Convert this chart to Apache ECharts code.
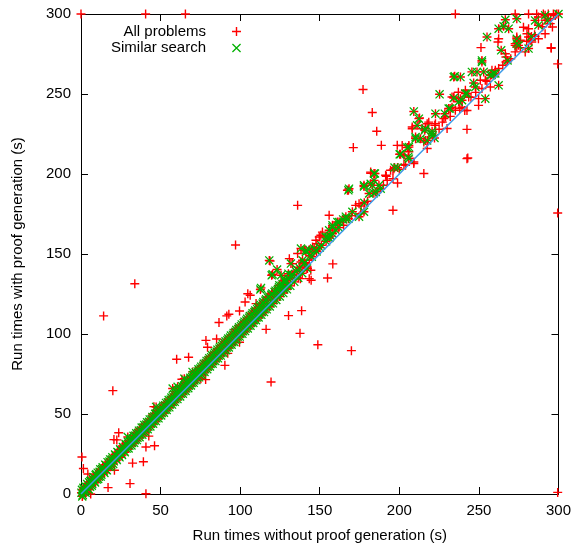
<!DOCTYPE html>
<html>
<head>
<meta charset="utf-8">
<style>
html,body{margin:0;padding:0;background:#fff;}
#chart{width:574px;height:548px;}
</style>
<script src="https://cdn.jsdelivr.net/npm/echarts@6/dist/echarts.min.js"></script>
</head>
<body>
<div id="chart"></div>
<script>
// Tick values
const xTicks = [0, 50, 100, 150, 200, 250, 300];
const yTicks = [0, 50, 100, 150, 200, 250, 300];

// Reference diagonal (equal run times)
const diagonal = [[0, 0], [300, 300]];

// "Similar search" problems (drawn with green x; they are also part of "All problems")
const similarBand = [
[0.3,0.8],[0.6,2.6],[1.1,-0.6],[1.5,3.9],[2.1,1.2],[2.7,4.8],[3.2,2.1],[3.9,6.2],[4.4,3.1],[5.1,7.3],[5.7,4.6],[6.3,8.4],[7.1,6.2],[7.8,10.6],[8.4,7.9],[9.2,11.8],[9.9,9.1],[10.5,13.3],[11.3,10.8],[12.1,15.4],[12.8,12.1],[13.6,16.7],[14.3,14.2],[15.2,18.3],[15.9,15.0],[16.7,19.9],[17.4,17.1],[18.3,21.6],[19.0,18.2],[19.7,22.9],[20.6,20.4],[21.4,24.7],[22.1,21.8],[22.9,26.2],[23.8,23.5],[24.6,27.9],[25.4,25.1],[26.3,29.4],[27.1,27.0],[28.0,31.3],[28.7,28.4],[29.4,35.6],[29.5,32.6],[30.4,30.1],[31.3,34.5],[32.1,31.8],[33.0,36.4],[33.8,33.6],[34.7,37.9],[35.5,35.1],[36.4,39.6],[37.2,37.0],[38.1,41.5],[38.9,38.7],[39.8,43.1],[40.6,40.5],[41.5,44.8],[42.3,42.0],[43.2,46.6],[44.0,43.9],[44.9,48.2],[45.7,45.6],[46.6,50.1],[47.2,54.4],[47.4,47.3],[48.3,51.7],[49.1,49.1],[50.0,53.5],[50.8,50.6],[51.7,55.2],[52.5,52.5],[53.4,56.9],[54.2,54.0],[55.1,58.7],[55.9,55.9],[56.8,60.3],[57.6,65.9],[57.6,57.5],[58.5,62.1],[59.3,59.2],[60.2,63.9],[60.7,67.0],[61.0,60.9],[61.9,65.6],[62.7,62.6],[63.6,67.3],[64.4,64.2],[64.9,72.1],[65.3,69.1],[66.1,65.9],[67.0,70.9],[67.8,67.7],[68.7,72.6],[69.5,69.4],[70.1,76.3],[70.4,74.3],[71.2,71.0],[72.1,76.1],[72.9,72.8],[73.8,77.9],[74.6,74.5],[75.5,79.6],[76.3,76.2],[77.2,81.4],[78.0,77.9],[78.9,83.2],[79.7,79.6],[80.6,84.9],[81.4,81.3],[82.3,86.7],[83.1,83.0],[84.0,88.4],[84.8,84.7],[85.7,90.2],[86.5,86.4],[87.4,91.9],[88.2,88.1],[89.1,93.7],[89.9,89.8],[90.8,95.4],[91.6,91.5],[92.5,97.2],[93.3,93.2],[94.2,99.0],[95.0,94.9],[95.9,100.7],[96.7,96.6],[97.6,102.5],[98.4,98.3],[99.3,104.2],[100.1,100.0],[101.0,106.0],[101.8,101.7],[102.7,107.7],[103.5,103.4],[104.4,109.5],[105.2,105.1],[106.1,111.2],[106.9,106.9],[107.8,113.0],[108.6,108.6],[109.5,114.7],[110.3,110.3],[111.2,116.5],[112.0,112.0],[112.9,118.2],[113.7,113.7],[114.6,120.0],[115.4,115.4],[116.3,121.7],[117.1,117.2],[118.1,123.5],[119.1,119.1],[120.1,125.3],[121.1,121.2],[122.2,127.1],[123.3,123.4],[124.4,129.2],[125.5,125.6],[126.6,131.3],[127.7,127.9],[128.9,133.6],[130.0,130.3]
];
const similarBand2 = [
[0.8,-1.5],[1.8,3.0],[2.9,0.8],[3.6,4.4],[4.9,2.8],[5.9,7.9],[6.8,5.2],[7.5,9.4],[8.8,7.2],[9.6,12.4],[10.8,9.4],[11.7,13.9],[12.4,10.9],[13.3,15.6],[14.7,13.2],[15.6,18.0],[16.3,14.8],[17.9,20.3],[18.6,17.0],[19.4,21.6],[20.2,18.8],[21.7,24.1],[22.5,21.2],[23.4,25.8],[24.2,22.9],[25.0,27.3],[25.8,24.3],[26.7,29.0],[27.5,26.1],[28.4,30.7],[29.9,28.5],[30.8,33.1],[31.7,30.3],[32.5,34.8],[33.4,32.0],[34.2,36.5],[35.1,33.7],[35.9,38.2],[36.8,35.5],[37.6,39.9],[38.5,37.1],[39.3,41.7],[40.2,38.8],[41.0,43.4],[41.9,40.5],[42.7,45.1],[43.6,42.2],[44.4,46.8],[45.3,43.9],[46.1,48.6],[47.0,45.6],[47.8,50.3],[48.7,47.3],[49.5,52.0],[50.4,49.1],[51.2,53.8],[52.1,50.8],[52.9,55.5],[53.8,52.5],[54.6,57.3],[55.5,54.2],[56.3,59.0],[57.2,55.9],[58.0,60.8],[58.9,57.6],[59.7,62.5],[60.6,59.3],[61.4,64.3],[62.3,61.0],[63.1,66.0],[64.0,62.7],[64.8,67.8],[65.7,64.4],[66.5,69.6],[67.4,66.1],[68.2,71.3],[69.1,67.8],[69.9,73.1],[70.8,69.5],[71.6,74.9],[72.5,71.2],[73.3,76.6],[74.2,72.9],[75.0,78.4],[75.9,74.6],[76.7,80.2],[77.6,76.3],[78.4,81.9],[79.3,78.0],[80.1,83.7],[81.0,79.7],[81.8,85.5],[82.7,81.4],[83.5,87.2],[84.4,83.1],[85.2,89.0],[86.1,84.8],[86.9,90.8],[87.8,86.5],[88.6,92.5],[89.5,88.2],[90.3,94.3],[91.2,89.9],[92.0,96.1],[92.9,91.6],[93.7,97.8],[94.6,93.3],[95.4,99.6],[96.3,95.0],[97.1,101.4],[98.0,96.7],[98.8,103.1],[99.7,98.4],[100.5,104.9],[101.4,100.1],[102.2,106.7],[103.1,101.8],[103.9,108.4],[104.8,103.5],[105.6,110.2],[106.5,105.2],[107.3,112.0],[108.2,106.9],[109.0,113.7],[109.9,108.6],[110.7,115.5],[111.6,110.3],[112.4,117.3],[113.3,112.0],[114.1,119.0],[115.0,113.7],[115.8,120.8],[116.7,115.4],[117.6,122.6],[118.6,117.2],[119.6,124.5],[120.6,119.2],[121.6,126.3],[122.7,121.3],[123.8,128.2],[124.9,123.5],[126.0,130.2],[127.1,125.6],[128.3,132.2],[129.4,127.9],[130.6,134.4],[131.5,130.1],[132.5,136.3],[134.0,132.6],[135.2,139.0],[136.5,135.0],[137.4,141.2],[139.0,138.0],[140.5,144.6],[142.0,141.0],[145.0,148.3],[148.0,151.6],[151.0,155.5],[154.0,157.9],[157.0,161.2],[162.0,166.5]
];
const similarMid = [
[112.7,127.8],[113.1,128.8],[118.3,146],[119.8,136.7],[120.4,137.3],[123.2,140.3],[123.5,127.3],[124.6,130.4],[125.7,136.7],[127.7,129.4],[127.7,133.6],[130.3,137.7],[131.9,136.7],[131.9,144],[133,137],[136,140],[138.2,153.4],[139.2,146.1],[140.3,144],[141.3,151.3],[141.3,152.3],[143.4,152.7],[144,149],[146.5,153.4],[147.6,152.3],[150,154],[153.8,160.6],[154.9,160.6],[155.9,164.8],[156,160],[158,162.8],[158,166.7],[158,167.9],[160,165],[161.1,170],[162.2,170],[164.7,171.6],[166.4,172.1],[166.4,173.3],[168,172],[170.5,176.4],[174.7,173.3],[177.8,176.4],[178,182],[184,188]
];
const similarUpper = [
[168,189.8],[168.4,190.8],[177.8,192.2],[177.8,192.9],[181,187.8],[182,193.9],[183,192.9],[184.1,196],[184.1,200.3],[184.7,200.3],[185.2,188.8],[187.2,192.9],[188.3,190.8],[197,204],[198.9,204],[200.2,212.3],[200.8,212.3],[205,216.5],[205.6,210.7],[206,209.6],[206,216.8],
[209.1,239.1],[210.2,222.1],[210.2,223.1],[211.2,230.4],[212.3,234.6],[213.3,222.1],[216,227.3],[216.4,228.4],[217.5,221],[220.6,226.7],[220.6,225.2],[221,224],[222.1,222.5],[222.7,237.7],[225.3,249.8],[228.6,237.7],[231,240.9],[231.9,240.9],[234.2,247.5],[234.2,260.6],[234.8,261.1],[237.3,245.2],[238.4,260.6],[239.4,246.1],[241.5,250.3],[242.5,250.3],
[245.6,263.8],[246.7,256.9],[247.8,254.4],[248.8,263.8],[251.9,270],[251.9,271],[253,263.8],[254,247.1],[255.1,285.6],[257.2,261.7],[258,262],[259.2,262.8],[260.3,262.8],[262.4,255.4],[262.4,290.8],[264,277.3],[265.5,292.3],[266.6,296.4],[268,271],[268.7,290.8],[273.8,297],[273.8,281.5],[273.8,284.5],[274.9,280.4],[281.2,278.4],[283,286],[285.3,296],[287.4,293],[291.6,299.2],[293,296],[300,300]
];

// Remaining problems (red +, "All problems" only)
const otherBand = [
[2,4],[5,3.5],[8,11],[11,10],[14,17],[17,16],[20,23],[24,23.5],[26,30],[31,30.5],[34,38],[37,41],[42,42.5],[45,50],[48,52],[53,57],[56,55.5],[59,64],[62,66],[66,66.5],[69,74],[72,77],[75,74.5],[78,83],[81,86],[85,85.5],[88,93],[91,96],[94,93.5],[97,103],[100,105],[104,103.5],[107,113],[110,116],[114,113.5],[117,123],[120,126],[123,122.5],[126,131],[129,128.5]
];
const otherOutliers = [
[0,300],[40.6,300],[65.6,300],[235.2,300],[272.8,300],[281.2,300],[286.3,300],[290.5,300],[293.6,300],[296.8,300],[298.9,300],
[299.5,268.8],[299.5,175.6],[299.5,1],
[14.2,111.3],[20.0,64.6],[0.6,23.1],[1.5,15.9],[4.3,12.5],[6.1,0],[23.7,38.3],[20.7,34.0],[22.5,33.8],[42.6,36.2],[40.8,29.4],[46.2,30.2],[39.2,20.2],[32.4,19.3],[21.0,14.8],[30.8,6.5],[17.0,4.0],[40.8,0.2],[45.8,54.6],[63.4,71.7],[78.5,96],[79.5,91.7],[90.4,80.4],[75.3,72.1],[60.1,84.2],[67.6,85.5],[86.7,107.2],[91.6,111.3],[78.3,71.5],[85.2,96.9],[92.2,87.9],[99.6,94.8],
[169.9,89.6],[148.8,93.3],[137.6,100.4],[130.4,111.5],[138.6,114.6],[154.9,135],[158.2,143.8],[144.6,133.6],[119.4,70],[116.3,102.9],[92.9,112.3],[99.6,114.4],[104.8,125.2],[106.3,124.2],[110,119],[103.1,120],[33.8,131.4],[97.1,155.6],[136.1,180.4],[118.8,145.6],[137.8,134.6]
];
const otherClusters = [
[150.7,161.7],[151.7,163.7],[148.2,156.5],[144.4,139.8],[136.1,150.3],[140.3,152.3],[138.2,145],[141.3,141.9],[130.9,147.1],[132.9,144],[137.1,141.8],[143.4,146.1],[142.3,140.9],[143.4,134.6],[145.5,154.4],[147.6,158.6],[149.7,160.6],
[167.4,189.8],[155.9,174.2],[172.6,180.4],[174.7,181.4],[175.8,175.2],[165,168],[170,174],[176,180],[180,183],[186,189],[190,193],[196,197],[200,203],
[215.4,200.3],[198.9,194.4],[196,177.3],[182,200.5],[191.8,198.6],[192.4,196],[194.5,202.3],[196.6,203.3],[206,213.9],[209.1,206.5],[203.9,205.4],[182,201.2],[191.4,199.2],
[177.2,252.8],[183,238.4],[185.8,226.7],[171.1,216.5],[188.7,217.9],[242.5,227.9],[242.5,209.6],[243,210],
[217.5,231.4],[222.7,231.4],[227,232.4],[208.1,228.3],[214.4,228.3],[215.4,220],[198.7,217.9],[202.9,211.7],[209.1,207.5],[196,202.3],[202.9,205.9],[233.1,248.1],[229,235.6],[235.2,239.8],[237.1,251.1],[242.5,239.7],[212.7,235],[208.1,229.4],[201.8,217.8],[206,217.8],[216.4,221],[217.5,215.9],[218.5,232.4],[222.3,230.4],[228,234.6],[230,228.4],[233.1,241.7],[239.4,241.7],[241.1,239.7],[241.5,252.3],[243.6,248.1],[238.4,247.1],[234.2,248.1],[218,221],[225,228],[232,236],[238,241],[245,248],[248,251],
[251.3,279],[295.4,279],[249.8,242.9],[249.8,247.1],[251.9,253.4],[257.2,254.4],[250.9,258.6],[254,258.6],[262.4,265.9],[260.3,264.8],[258.2,264.8],[266.6,275.2],[267,270],[267,273.1],[262.4,284.5],[262,282.5],[272.8,280.4],[274.9,282.5],[279.1,276.3],[283.2,282.5],[278,291.7],[281.2,290.8],[280.2,287.7],[287.4,298.1],[291.6,296.1],[294.8,294],[296.2,291.9],[273.8,285.6],[276,283.6],[281.2,285.6],[282.3,283.6],[272.8,281.5],[273.8,279.4],[272.8,276.3],[285.3,286],[287.4,284.5],[295.4,278.6],[291.6,287.7],
[255,258],[260,262],[265,268],[270,272],[276,279],[280,283],[285,287],[290,292],[295,297],[298,299]
];

const similarSearch = similarBand.concat(similarBand2, similarMid, similarUpper);
const allProblems = otherBand.concat(otherOutliers, otherClusters, similarSearch);

const PLUS = 'path://M3.8,0H5.2V9H3.8Z M0,3.8H9V5.2H0Z';
const CROSS = 'path://M0,0.9L0.9,0L9,8.1L8.1,9Z M8.1,0L9,0.9L0.9,9L0,8.1Z';
const RED = '#ff0000';
const GREEN = '#00b000';
const BLUE = '#3d9be8';
const FONT = 'Liberation Sans, Arial, sans-serif';

const chart = echarts.init(document.getElementById('chart'), null, {renderer: 'canvas'});

function axisCommon(extra) {
  return Object.assign({
    type: 'value', min: 0, max: 300, interval: 50,
    axisLine: {show: true, onZero: false, lineStyle: {color: '#000', width: 1}},
    axisTick: {show: true, inside: true, length: 7, lineStyle: {color: '#000', width: 1}},
    splitLine: {show: false}
  }, extra);
}

const option = {
  animation: false,
  backgroundColor: '#fff',
  textStyle: {fontFamily: FONT},
  grid: {left: 81, right: 14, top: 14, bottom: 54, containLabel: false},
  legend: [
    {
      data: [{name: 'All problems', icon: PLUS}],
      orient: 'vertical', align: 'right',
      right: 333, top: 24, padding: 0,
      itemWidth: 9, itemHeight: 9,
      selectedMode: false,
      textStyle: {fontFamily: FONT, fontSize: 15, color: '#000', padding: [0, 21, 0, 0]}
    },
    {
      data: [{name: 'Similar search', icon: CROSS}],
      orient: 'vertical', align: 'right',
      right: 333, top: 40.5, padding: 0,
      itemWidth: 9, itemHeight: 9,
      selectedMode: false,
      textStyle: {fontFamily: FONT, fontSize: 15, color: '#000', padding: [0, 21, 0, 0]}
    }
  ],
  xAxis: [
    axisCommon({
      position: 'bottom',
      name: 'Run times without proof generation (s)',
      nameLocation: 'middle', nameGap: 34,
      nameTextStyle: {fontFamily: FONT, fontSize: 15, color: '#000'},
      axisLabel: {show: true, margin: 9, fontFamily: FONT, fontSize: 15, color: '#000',
        formatter: v => (xTicks.indexOf(v) >= 0 ? String(v) : '')}
    }),
    axisCommon({position: 'top', axisLabel: {show: false}})
  ],
  yAxis: [
    axisCommon({
      position: 'left',
      name: 'Run times with proof generation (s)',
      nameLocation: 'middle', nameGap: 56,
      nameTextStyle: {fontFamily: FONT, fontSize: 15, color: '#000'},
      axisLabel: {show: true, margin: 10, fontFamily: FONT, fontSize: 15, color: '#000',
        formatter: v => (yTicks.indexOf(v) >= 0 ? String(v) : '')}
    }),
    axisCommon({position: 'right', axisLabel: {show: false}})
  ],
  series: [
    {
      name: 'All problems', type: 'scatter', xAxisIndex: 0, yAxisIndex: 0,
      data: allProblems, symbol: PLUS, symbolSize: 9, clip: false,
      itemStyle: {color: RED, opacity: 1},
      emphasis: {disabled: true}, silent: true
    },
    {
      name: 'Similar search', type: 'scatter', xAxisIndex: 0, yAxisIndex: 0,
      data: similarSearch, symbol: CROSS, symbolSize: 9, clip: false,
      itemStyle: {color: GREEN, opacity: 1},
      emphasis: {disabled: true}, silent: true
    },
    {
      name: 'diagonal', type: 'line', xAxisIndex: 0, yAxisIndex: 0,
      data: diagonal, symbol: 'none', silent: true,
      lineStyle: {color: BLUE, width: 1.5}
    }
  ]
};
chart.setOption(option);
</script>
</body>
</html>
